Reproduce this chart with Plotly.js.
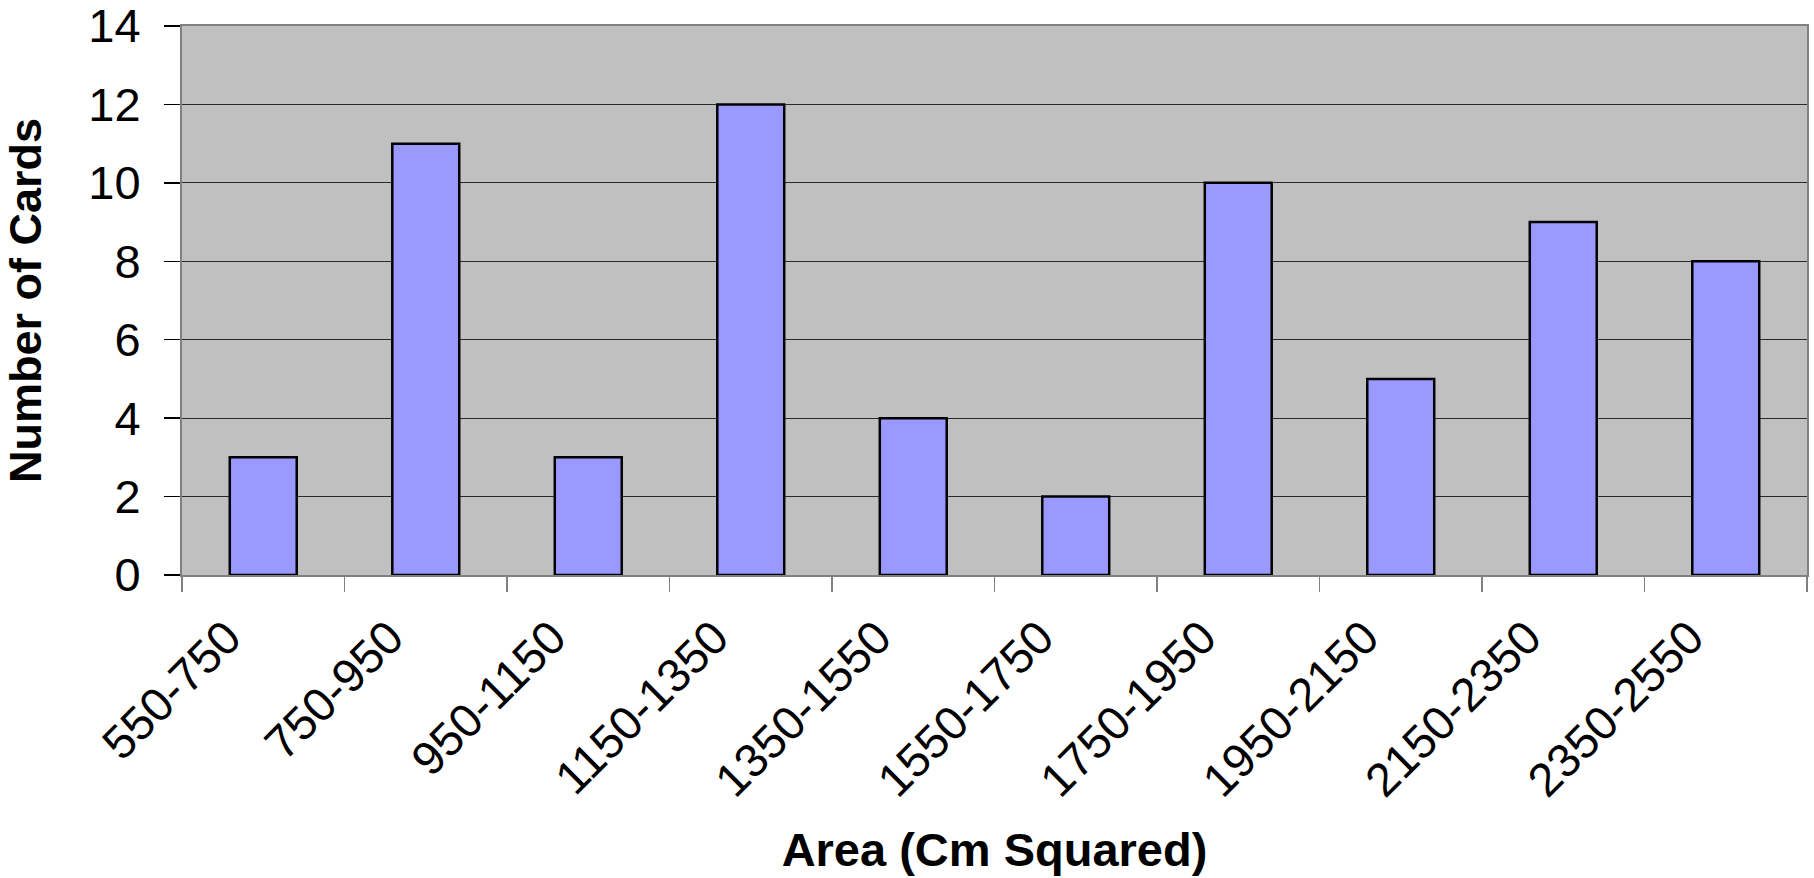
<!DOCTYPE html>
<html>
<head>
<meta charset="utf-8">
<script src="https://cdn.plot.ly/plotly-3.0.1.min.js"></script>
<style>
  html, body { margin: 0; padding: 0; background: #ffffff; }
  #chart { width: 1814px; height: 878px; }
</style>
</head>
<body>
<div id="chart"></div>
<script>
const categories = ["550-750", "750-950", "950-1150", "1150-1350", "1350-1550",
                    "1550-1750", "1750-1950", "1950-2150", "2150-2350", "2350-2550"];
const cardCounts = [3, 11, 3, 12, 4, 2, 10, 5, 9, 8];
const yTickValues = [0, 2, 4, 6, 8, 10, 12, 14];
const xTitle = "Area (Cm Squared)";
const yTitle = "Number of Cards";

const fontFamily = "Liberation Sans, Arial, sans-serif";

const trace = {
  type: "bar",
  x: categories,
  y: cardCounts,
  marker: { color: "#9999FF", line: { color: "#000000", width: 2.5 } },
  hoverinfo: "x+y"
};

const layout = {
  width: 1814,
  height: 878,
  margin: { l: 182, r: 7, t: 26, b: 303, pad: 0 },
  paper_bgcolor: "#ffffff",
  plot_bgcolor: "#C0C0C0",
  bargap: 0.588,
  showlegend: false,
  font: { family: fontFamily, color: "#000000" },
  xaxis: {
    type: "category",
    tickson: "boundaries",
    ticks: "outside",
    ticklen: 15,
    tickwidth: 1.5,
    tickcolor: "#808080",
    tickangle: -45,
    ticklabelstandoff: 14,
    ticklabelshift: -36,
    ticklabeloverflow: "allow",
    tickfont: { size: 47, family: fontFamily, color: "#000000" },
    showline: true,
    linecolor: "#808080",
    linewidth: 2,
    mirror: true,
    showgrid: false,
    automargin: false,
    title: { text: xTitle, font: { size: 47, family: fontFamily, color: "#000000", weight: "bold" }, standoff: 28 }
  },
  yaxis: {
    range: [0, 14],
    tickvals: yTickValues,
    ticktext: yTickValues.map(String),
    ticks: "outside",
    ticklen: 16,
    tickwidth: 1.5,
    tickcolor: "#000000",
    ticklabelstandoff: 14,
    ticklabeloverflow: "allow",
    tickfont: { size: 47, family: fontFamily, color: "#000000" },
    showline: true,
    linecolor: "#808080",
    linewidth: 2,
    mirror: true,
    showgrid: true,
    gridcolor: "#2a2a2a",
    gridwidth: 1.2,
    zeroline: false,
    automargin: false,
    title: { text: yTitle, font: { size: 45, family: fontFamily, color: "#000000", weight: "bold" }, standoff: 36 }
  }
};

Plotly.newPlot("chart", [trace], layout, { displayModeBar: false, staticPlot: true });
</script>
</body>
</html>
